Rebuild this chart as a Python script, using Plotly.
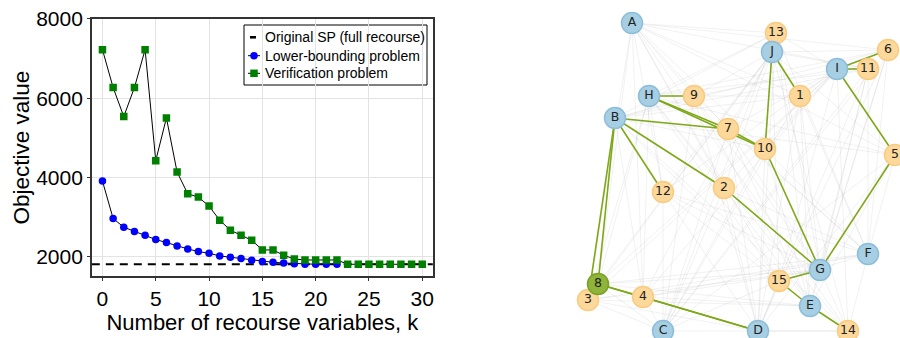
import plotly.graph_objects as go

# ---- left panel: objective value vs. number of recourse variables ----
k_values = list(range(31))
lower_bounding = [3909, 2965, 2745, 2636, 2543, 2434, 2358, 2273, 2197, 2130,
                  2087, 2019, 1985, 1953, 1910, 1877, 1860, 1842, 1825, 1810,
                  1810, 1810, 1810]
verification = [7225, 6270, 5536, 6270, 7225, 4423, 5503, 4137, 3588, 3504,
                3277, 2922, 2669, 2543, 2416, 2171, 2171, 2037, 1943, 1918,
                1918, 1918, 1918, 1810, 1810, 1810, 1810, 1810, 1810, 1810, 1810]
original_sp = 1810
x_range = [-1, 31]
y_range = [1510, 8000]
x_ticks = [0, 5, 10, 15, 20, 25, 30]
y_ticks = [2000, 4000, 6000, 8000]
series_names = ["Original SP (full recourse)", "Lower-bounding problem",
                "Verification problem"]

# ---- right panel: facility / customer network ----
facilities = ["A", "B", "C", "D", "E", "F", "G", "H", "I", "J"]
facility_x = [632, 615, 663, 758, 810, 868, 820, 649, 837, 772]
facility_y = [23, 118, 331, 331, 306, 254, 270, 96, 69, 52]
customers = ["1", "2", "3", "4", "5", "6", "7", "8", "9", "10",
             "11", "12", "13", "14", "15"]
customer_x = [800, 724, 588, 643, 895, 888, 728, 598, 694, 765,
              868, 663, 776, 848, 779]
customer_y = [96, 188, 300, 297, 155, 50, 129, 284, 96, 149,
              69, 192, 33, 331, 281]
highlighted = ["8"]
active_links = [("H", "9"), ("H", "7"), ("H", "10"), ("7", "10"), ("B", "7"),
                ("B", "12"), ("B", "2"), ("B", "8"), ("B", "3"), ("8", "4"),
                ("4", "D"), ("8", "D"), ("J", "1"), ("J", "10"), ("10", "G"),
                ("2", "G"), ("5", "G"), ("I", "5"), ("I", "6"), ("I", "11"),
                ("G", "15"), ("15", "E"), ("E", "14")]

pos = {}
for n, x, y in zip(facilities, facility_x, facility_y):
    pos[n] = (x, y)
for n, x, y in zip(customers, customer_x, customer_y):
    pos[n] = (x, y)

FONT = "Liberation Sans, Arial, sans-serif"
W, H = 900, 338
fig = go.Figure()

sp_line = dict(color="black", width=2.2, dash="8px,6px")
conn_line = dict(color="black", width=1)
lb_marker = dict(color="#0000ff", size=7.5, symbol="circle")
ver_marker = dict(color="#008000", size=7.5, symbol="square")

fig.add_trace(go.Scatter(
    x=x_range, y=[original_sp, original_sp], mode="lines", line=sp_line,
    name=series_names[0], xaxis="x", yaxis="y"))
fig.add_trace(go.Scatter(
    x=k_values[:len(lower_bounding)], y=lower_bounding, mode="lines+markers",
    line=conn_line, marker=lb_marker, name=series_names[1], xaxis="x", yaxis="y"))
fig.add_trace(go.Scatter(
    x=k_values[:len(verification)], y=verification, mode="lines+markers",
    line=conn_line, marker=ver_marker, name=series_names[2], xaxis="x", yaxis="y"))

# compact legend panel (own pixel-scaled axis inside the plot's top-right corner)
leg_box = (244, 427, 25, 85)          # left, right, top, bottom in page pixels
leg_rows = [12.3, 30.7, 48.3]
fig.add_shape(type="rect", xref="paper", yref="paper",
              x0=leg_box[0] / W, x1=leg_box[1] / W,
              y0=1 - leg_box[3] / H, y1=1 - leg_box[2] / H,
              line=dict(color="black", width=1), fillcolor="white", layer="below")
fig.add_trace(go.Scatter(x=[6, 12], y=[leg_rows[0]] * 2, mode="lines",
                         line=dict(color="black", width=2.6),
                         hoverinfo="skip", xaxis="x3", yaxis="y3"))
fig.add_trace(go.Scatter(x=[4, 10, 16], y=[leg_rows[1]] * 3, mode="lines+markers",
                         line=conn_line, marker=lb_marker, hoverinfo="skip",
                         selectedpoints=[1], unselected=dict(marker=dict(opacity=0)),
                         xaxis="x3", yaxis="y3"))
fig.add_trace(go.Scatter(x=[4, 10, 16], y=[leg_rows[2]] * 3, mode="lines+markers",
                         line=conn_line, marker=ver_marker, hoverinfo="skip",
                         selectedpoints=[1], unselected=dict(marker=dict(opacity=0)),
                         xaxis="x3", yaxis="y3"))
for name, ry in zip(series_names, leg_rows):
    fig.add_annotation(x=19, y=ry, xref="x3", yref="y3", text=name,
                       showarrow=False, xanchor="left", yanchor="middle",
                       font=dict(size=14, color="black"))

# light background links: every facility to every customer
gx, gy = [], []
for f in facilities:
    for c in customers:
        gx += [pos[f][0], pos[c][0], None]
        gy += [pos[f][1], pos[c][1], None]
fig.add_trace(go.Scatter(
    x=gx, y=gy, mode="lines", line=dict(color="rgba(175,175,175,0.25)", width=0.7),
    hoverinfo="skip", xaxis="x2", yaxis="y2"))

ax, ay = [], []
for a, b in active_links:
    ax += [pos[a][0], pos[b][0], None]
    ay += [pos[a][1], pos[b][1], None]
fig.add_trace(go.Scatter(
    x=ax, y=ay, mode="lines", line=dict(color="#7fa818", width=1.6),
    hoverinfo="skip", xaxis="x2", yaxis="y2"))

cust_fill = ["#8fb43a" if c in highlighted else "#fdd89b" for c in customers]
cust_line = ["#79a028" if c in highlighted else "#f9cb80" for c in customers]
fig.add_trace(go.Scatter(
    x=[pos[c][0] for c in customers], y=[pos[c][1] for c in customers],
    mode="markers+text", text=customers, textposition="middle center",
    textfont=dict(family="DejaVu Sans", size=12.5, color="#222"),
    marker=dict(size=21, color=cust_fill, line=dict(color=cust_line, width=1.5)),
    xaxis="x2", yaxis="y2"))
fig.add_trace(go.Scatter(
    x=facility_x, y=facility_y, mode="markers+text", text=facilities,
    textposition="middle center",
    textfont=dict(family="DejaVu Sans", size=12.5, color="#222"),
    marker=dict(size=21, color="#a6cfe3", line=dict(color="#8dbddb", width=1.5)),
    xaxis="x2", yaxis="y2"))

fig.update_layout(
    width=W, height=H, margin=dict(l=0, r=0, t=0, b=0, autoexpand=False),
    paper_bgcolor="white", plot_bgcolor="rgba(0,0,0,0)",
    font=dict(family=FONT, color="black"),
    showlegend=False,
    xaxis=dict(domain=[0.102, 0.481], range=x_range, tickvals=x_ticks,
               automargin=False,
               showgrid=True, gridcolor="#e3e3e3", gridwidth=1, zeroline=False,
               showline=True, linecolor="#333", linewidth=1.5, mirror=True,
               ticks="outside", ticklen=3, tickcolor="#333",
               tickfont=dict(size=21),
               title=dict(text="Number of recourse variables, k",
                          font=dict(size=22), standoff=4)),
    yaxis=dict(domain=[0.183, 0.944], range=y_range, tickvals=y_ticks,
               automargin=False,
               showgrid=True, gridcolor="#e3e3e3", gridwidth=1, zeroline=False,
               showline=True, linecolor="#333", linewidth=1.5, mirror=True,
               ticks="outside", ticklen=3, tickcolor="#333",
               tickfont=dict(size=21),
               title=dict(text="Objective value", font=dict(size=22.5), standoff=0)),
    xaxis2=dict(domain=[560 / W, 1.0], range=[560, 900], visible=False,
                automargin=False),
    yaxis2=dict(domain=[0, 1], range=[H, 0], visible=False, anchor="x2",
                automargin=False),
    xaxis3=dict(domain=[leg_box[0] / W, leg_box[1] / W], automargin=False,
                range=[0, leg_box[1] - leg_box[0]], visible=False, anchor="y3"),
    yaxis3=dict(domain=[1 - leg_box[3] / H, 1 - leg_box[2] / H], automargin=False,
                range=[leg_box[3] - leg_box[2], 0], visible=False, anchor="x3"),
)

fig.write_html("out.html")
